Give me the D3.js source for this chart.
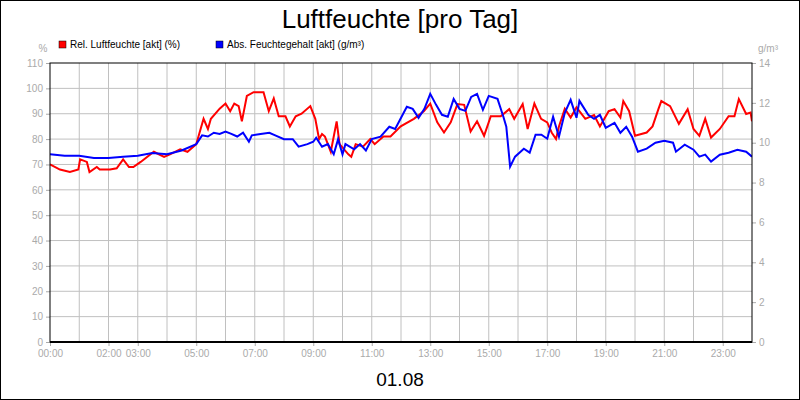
<!DOCTYPE html>
<html><head><meta charset="utf-8">
<script src="https://cdn.jsdelivr.net/npm/d3@7"></script>
<style>body{margin:0;background:#fff}svg{font-family:"Liberation Sans",Arial,sans-serif}</style>
</head><body><div id="plot"></div>
<script>
// relative humidity (%) : [hour, value]
var relHum = [[0,70],[0.34,68],[0.68,67],[0.97,68],[1.03,72],[1.26,71],[1.35,67],[1.6,69],[1.7,68],[2.05,68],[2.28,68.5],[2.5,72],[2.7,69],[2.85,69],[3.1,71],[3.55,75],[3.9,73],[4.1,74],[4.45,76],[4.7,75],[5.0,78],[5.25,88],[5.4,84],[5.5,88],[5.8,92],[6.0,94],[6.16,91],[6.3,94],[6.45,93],[6.56,87],[6.73,97],[6.96,98.5],[7.3,98.5],[7.48,91],[7.65,96],[7.82,89],[8.05,89],[8.2,85],[8.4,89],[8.6,90],[8.9,93],[9.07,88],[9.2,80],[9.3,82],[9.4,81],[9.6,75],[9.8,87],[9.9,78],[10.2,74],[10.3,73],[10.45,78],[10.7,77],[10.95,80],[11.1,78],[11.4,81],[11.64,81],[11.99,85],[12.44,88],[12.78,91],[13.0,94],[13.24,86.6],[13.47,82.6],[13.7,86.6],[13.93,93.8],[14.16,93.5],[14.38,83],[14.6,87],[14.84,81.3],[15.07,89],[15.41,89],[15.7,91.8],[15.87,88],[16.16,93.8],[16.33,84],[16.56,94],[16.79,88],[17.0,86.6],[17.15,82.6],[17.3,80],[17.4,85],[17.6,92],[17.8,88.5],[18.0,92.5],[18.3,88],[18.6,89.5],[18.8,85],[19.1,91],[19.3,91.8],[19.5,88.5],[19.6,95],[19.8,91],[20.0,81.3],[20.4,82.6],[20.6,85],[20.8,91.8],[20.9,95],[21.2,93],[21.5,86],[21.8,91.8],[22.0,84],[22.2,81.3],[22.4,88],[22.6,80.6],[22.9,84],[23.2,89],[23.4,89],[23.55,95.8],[23.8,89.9],[23.95,90.5],[24,87]];
// absolute humidity (g/m³) : [hour, value]
var absHum = [[0,9.42],[0.5,9.35],[1.0,9.35],[1.5,9.23],[2.0,9.23],[2.5,9.29],[3.0,9.35],[3.5,9.48],[4.0,9.42],[4.5,9.61],[5.0,9.93],[5.2,10.37],[5.4,10.31],[5.6,10.5],[5.8,10.44],[6.0,10.56],[6.2,10.44],[6.4,10.31],[6.6,10.5],[6.8,10.05],[6.9,10.37],[7.2,10.44],[7.5,10.5],[7.7,10.37],[8.0,10.18],[8.3,10.18],[8.5,9.8],[8.8,9.93],[9.0,10.05],[9.1,10.25],[9.3,9.8],[9.5,9.93],[9.7,9.42],[9.85,10.18],[10.0,9.42],[10.1,9.93],[10.4,9.67],[10.6,9.93],[10.8,9.61],[11.0,10.18],[11.3,10.3],[11.6,10.8],[11.8,10.69],[12.2,11.8],[12.4,11.7],[12.6,11.25],[12.8,11.7],[13.0,12.45],[13.2,11.9],[13.4,11.4],[13.6,11.3],[13.8,12.2],[14.0,11.7],[14.2,11.6],[14.4,12.3],[14.6,12.45],[14.8,11.65],[15.0,12.35],[15.3,12.2],[15.5,11.3],[15.6,10.8],[15.73,8.8],[15.9,9.3],[16.2,9.7],[16.4,9.5],[16.6,10.4],[16.8,10.4],[17.0,10.2],[17.2,11.3],[17.4,10.3],[17.6,11.5],[17.8,12.15],[18.0,11.25],[18.1,12.1],[18.4,11.4],[18.6,11.2],[18.8,11.4],[19.0,10.75],[19.3,11.0],[19.5,10.5],[19.7,10.8],[19.9,10.3],[20.1,9.55],[20.4,9.7],[20.7,10.0],[21.0,10.1],[21.3,10.0],[21.4,9.55],[21.7,9.9],[22.0,9.65],[22.2,9.3],[22.4,9.4],[22.6,9.05],[22.9,9.4],[23.2,9.5],[23.5,9.65],[23.8,9.55],[24,9.3]];
var xTickHours = [0,2,3,5,7,9,11,13,15,17,19,21,23];
var leftTicks = d3.range(0,111,10),
    rightTicks = d3.range(0,15,2);

var W = 800, H = 400,
    m = {t:63,r:48,b:58,l:50};

var svg = d3.select('#plot').append('svg').attr('width',W).attr('height',H);
svg.append('rect').attr('x',0.5).attr('y',0.5).attr('width',W-1).attr('height',H-1)
    .attr('fill','#fff').attr('stroke','#000');

var x = d3.scaleLinear().domain([0,24]).range([m.l,W-m.r]),
    yL = d3.scaleLinear().domain([0,110]).range([H-m.b,m.t]),
    yR = d3.scaleLinear().domain([0,14]).range([H-m.b,m.t]);

// grid
var g = svg.append('g');
g.selectAll('.vg').data(d3.range(1,24)).enter().append('line')
    .attr('x1',d=>x(d)).attr('x2',d=>x(d)).attr('y1',m.t).attr('y2',H-m.b)
    .attr('stroke','#c0c0c0');
g.selectAll('.hg').data(leftTicks.slice(1,-1)).enter().append('line')
    .attr('x1',m.l).attr('x2',W-m.r).attr('y1',d=>yL(d)).attr('y2',d=>yL(d))
    .attr('stroke','#c0c0c0');

// axes
var grey = '#aaa';
function styleAxis(sel){
    sel.selectAll('text').attr('fill',grey).style('font-size','10px');
    sel.selectAll('.tick line').attr('stroke',grey);
    sel.select('.domain').remove();
}
svg.append('g').attr('transform','translate('+m.l+',0)')
    .call(d3.axisLeft(yL).tickValues(leftTicks).tickSize(4).tickPadding(3)).call(styleAxis);
svg.append('g').attr('transform','translate('+(W-m.r)+',0)')
    .call(d3.axisRight(yR).tickValues(rightTicks).tickSize(4).tickPadding(3)).call(styleAxis);
svg.append('g').attr('transform','translate(0,'+(H-m.b)+')')
    .call(d3.axisBottom(x).tickValues(xTickHours).tickSize(4).tickPadding(4)
        .tickFormat(d=>d3.format('02d')(d)+':00')).call(styleAxis);

svg.append('text').attr('x',43).attr('y',52).attr('text-anchor','middle')
    .attr('fill',grey).style('font-size','10px').text('%');
svg.append('text').attr('x',768).attr('y',52).attr('text-anchor','middle')
    .attr('fill',grey).style('font-size','10px').text('g/m³');

// lines
var lineL = d3.line().x(d=>x(d[0])).y(d=>yL(d[1])),
    lineR = d3.line().x(d=>x(d[0])).y(d=>yR(d[1]));
var clip = svg.append('clipPath').attr('id','c').append('rect')
    .attr('x',m.l).attr('y',m.t).attr('width',W-m.l-m.r).attr('height',H-m.t-m.b);
svg.append('path').datum(relHum).attr('d',lineL).attr('fill','none')
    .attr('stroke','#ff0000').attr('stroke-width',2).attr('clip-path','url(#c)');
svg.append('path').datum(absHum).attr('d',lineR).attr('fill','none')
    .attr('stroke','#0000ff').attr('stroke-width',2).attr('clip-path','url(#c)');

// frame
svg.append('rect').attr('x',m.l).attr('y',m.t).attr('width',W-m.l-m.r).attr('height',H-m.t-m.b)
    .attr('fill','none').attr('stroke','#000');
svg.append('line').attr('x1',m.l).attr('x2',W-m.r).attr('y1',H-m.b).attr('y2',H-m.b)
    .attr('stroke','#000').attr('stroke-width',2);

// title & legend
svg.append('text').attr('x',400).attr('y',28).attr('text-anchor','middle')
    .style('font-size','26px').text('Luftfeuchte [pro Tag]');
svg.append('text').attr('x',400).attr('y',386).attr('text-anchor','middle')
    .style('font-size','19px').text('01.08');
var legend = [['Rel. Luftfeuchte [akt] (%)','#ff0000',59],['Abs. Feuchtegehalt [akt] (g/m³)','#0000ff',216]];
legend.forEach(function(l){
    svg.append('rect').attr('x',l[2]).attr('y',41).attr('width',7).attr('height',7)
        .attr('fill',l[1]).attr('stroke','#000').attr('stroke-width',0.5);
    svg.append('text').attr('x',l[2]+11).attr('y',48).style('font-size','10px').text(l[0]);
});
</script></body></html>
